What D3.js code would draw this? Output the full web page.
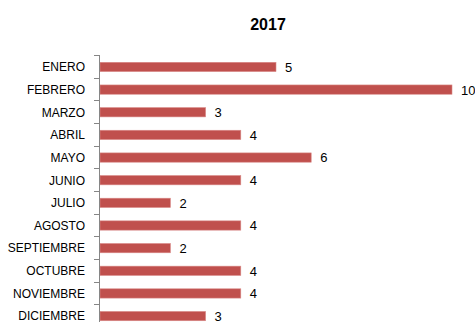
<!DOCTYPE html>
<html><head><meta charset="utf-8">
<script src="https://cdn.jsdelivr.net/npm/d3@7"></script>
<style>body{margin:0;background:#fff}svg{display:block}</style>
</head><body>
<svg id="c" width="475" height="322"></svg>
<script>
const title = "2017";
const categories = ["ENERO","FEBRERO","MARZO","ABRIL","MAYO","JUNIO","JULIO","AGOSTO","SEPTIEMBRE","OCTUBRE","NOVIEMBRE","DICIEMBRE"];
const values = [5,10,3,4,6,4,2,4,2,4,4,3];

const svg = d3.select("#c");
const font = "'Liberation Sans', Arial, sans-serif";
const x = d3.scaleLinear().domain([0,10]).range([100,452]);
const stepPx = 22.65, pi = 0.59, po = 0.3224, top0 = 55;
const y = d3.scaleBand().domain(categories)
  .range([top0, top0 + stepPx*(categories.length - pi + 2*po)])
  .paddingInner(pi).paddingOuter(po);

svg.append("text").attr("x",268).attr("y",30).attr("text-anchor","middle")
  .attr("font-family",font).attr("font-weight","bold").attr("font-size",16).attr("fill","#000").text(title);

// bars
svg.selectAll("rect.bar").data(categories).enter().append("rect")
  .attr("x",x(0)).attr("y",d=>y(d)).attr("width",(d,i)=>x(values[i])-x(0)).attr("height",y.bandwidth())
  .attr("fill","#C0504D").attr("stroke","#d98a88").attr("stroke-width",0.6);

// axis
const step = y.step();
const ax = svg.append("g").attr("stroke","#868686").attr("stroke-width",1);
ax.append("line").attr("x1",99.5).attr("x2",99.5).attr("y1",top0).attr("y2",top0 + step*categories.length);
d3.range(categories.length+1).forEach(i=>{
  const yy = Math.round(top0 + i*step)+0.5;
  ax.append("line").attr("x1",94).attr("x2",99.5).attr("y1",yy).attr("y2",yy);
});

// category labels
svg.selectAll("text.cat").data(categories).enter().append("text")
  .attr("x",85).attr("y",d=>y(d)+y.bandwidth()/2).attr("dy","0.36em").attr("text-anchor","end")
  .attr("font-family",font).attr("font-size",12).attr("fill","#000").text(d=>d);

// value labels
svg.selectAll("text.val").data(categories).enter().append("text")
  .attr("x",(d,i)=>x(values[i])+9).attr("y",d=>y(d)+y.bandwidth()/2).attr("dy","0.38em")
  .attr("font-family",font).attr("font-size",13).attr("fill","#000").text((d,i)=>values[i]);
</script>
</body></html>
